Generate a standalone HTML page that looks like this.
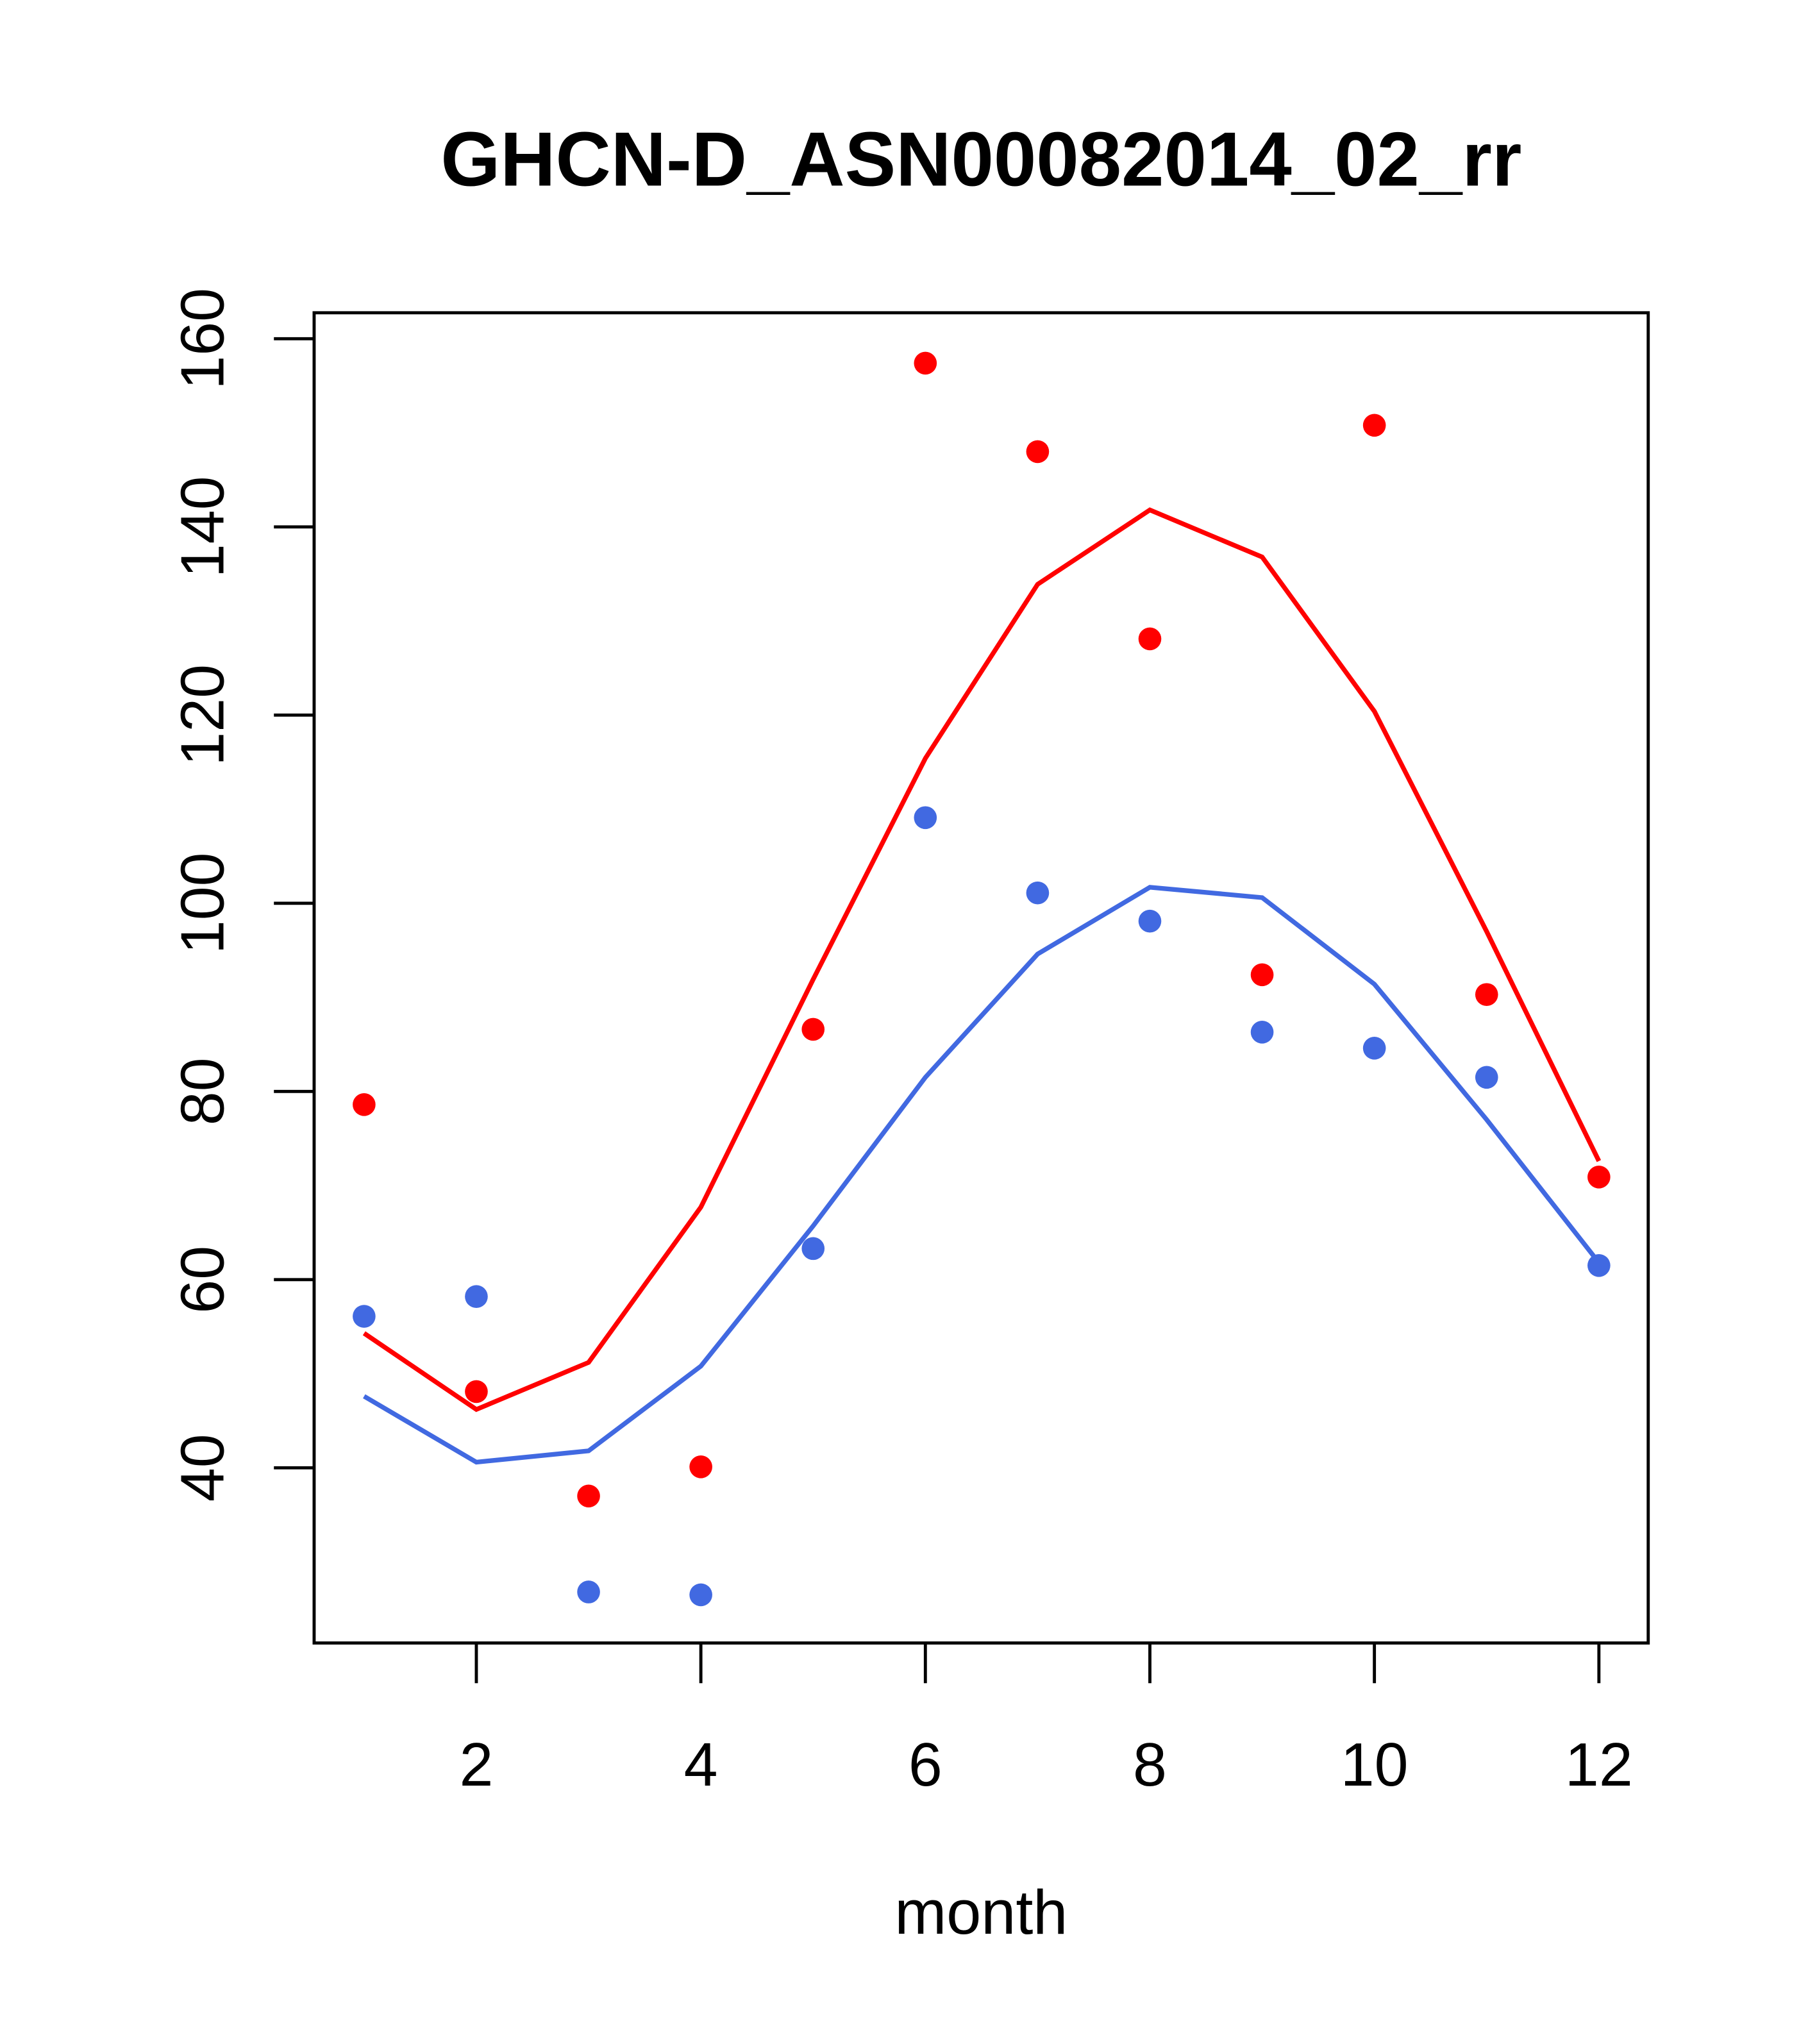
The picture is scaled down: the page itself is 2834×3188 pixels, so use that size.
<!DOCTYPE html>
<html><head><meta charset="utf-8"><style>html,body{margin:0;padding:0;background:#fff}svg{display:block}</style></head>
<body>
<svg id="chart" width="2834" height="3188" viewBox="0 0 1400 1575" xmlns="http://www.w3.org/2000/svg" font-family="Liberation Sans, sans-serif">
<rect width="1400" height="1575" fill="#fff"/>
<text x="756" y="143" text-anchor="middle" font-size="59" font-weight="bold">GHCN-D_ASN00082014_02_rr</text>
<rect x="242" y="241" width="1028" height="1025" fill="none" stroke="#000" stroke-width="2.4"/>
<g id="xaxis"></g>
<g id="yaxis"></g>
<text x="756" y="1490" text-anchor="middle" font-size="48">month</text>
<g id="series"></g>
</svg>
<script>
const months=[1,2,3,4,5,6,7,8,9,10,11,12];
const xTicks=[2,4,6,8,10,12];
const yTicks=[40,60,80,100,120,140,160];
const redPoints=[78.6,48.1,37.0,40.1,86.6,157.4,148.0,128.1,92.4,150.8,90.3,70.9];
const bluePoints=[56.1,58.2,26.8,26.5,63.3,109.1,101.1,98.1,86.3,84.6,81.5,61.5];
const redLine=[54.3,46.2,51.2,67.7,91.9,115.4,133.9,141.8,136.8,120.4,97.0,72.6];
const blueLine=[47.6,40.6,41.8,50.8,65.7,81.5,94.6,101.7,100.6,91.4,77.0,61.8];

const NS="http://www.w3.org/2000/svg";
function X(m){return 280.5+(m-1)*86.5;}
function Y(v){return 1131-(v-40)*7.25;}
function mk(tag,attrs,parent){const e=document.createElementNS(NS,tag);for(const k in attrs)e.setAttribute(k,attrs[k]);parent.appendChild(e);return e;}
const xa=document.getElementById('xaxis'),ya=document.getElementById('yaxis'),sg=document.getElementById('series');
xTicks.forEach(t=>{
  const l=mk('line',{x1:X(t),x2:X(t),y1:1266,y2:1297,stroke:'#000','stroke-width':2.4},xa);
  
  
  const tx=mk('text',{x:X(t),y:1376,'text-anchor':'middle','font-size':47},xa);
  tx.textContent=t;
  
  
});
yTicks.forEach(t=>{
  const l=mk('line',{x1:211,x2:242,y1:Y(t),y2:Y(t),stroke:'#000','stroke-width':2.4},ya);
  
  
  const tx=mk('text',{x:0,y:0,'text-anchor':'middle','font-size':47,transform:`translate(172,${Y(t)}) rotate(-90)`},ya);
  tx.textContent=t;
  
  
});
function line(vals,color,name){
  const p=mk('polyline',{points:vals.map((v,i)=>X(months[i])+','+Y(v)).join(' '),fill:'none',stroke:color,'stroke-width':3.6},sg);
  
  
}
function pts(vals,color,name){
  vals.forEach((v,i)=>{
    const c=mk('circle',{cx:X(months[i]),cy:Y(v),r:8.8,fill:color},sg);
    
    
  });
}
line(redLine,'#ff0000','red-line');
line(blueLine,'#4169e1','blue-line');
pts(redPoints,'#ff0000','red-point');
pts(bluePoints,'#4169e1','blue-point');
</script>
</body></html>
